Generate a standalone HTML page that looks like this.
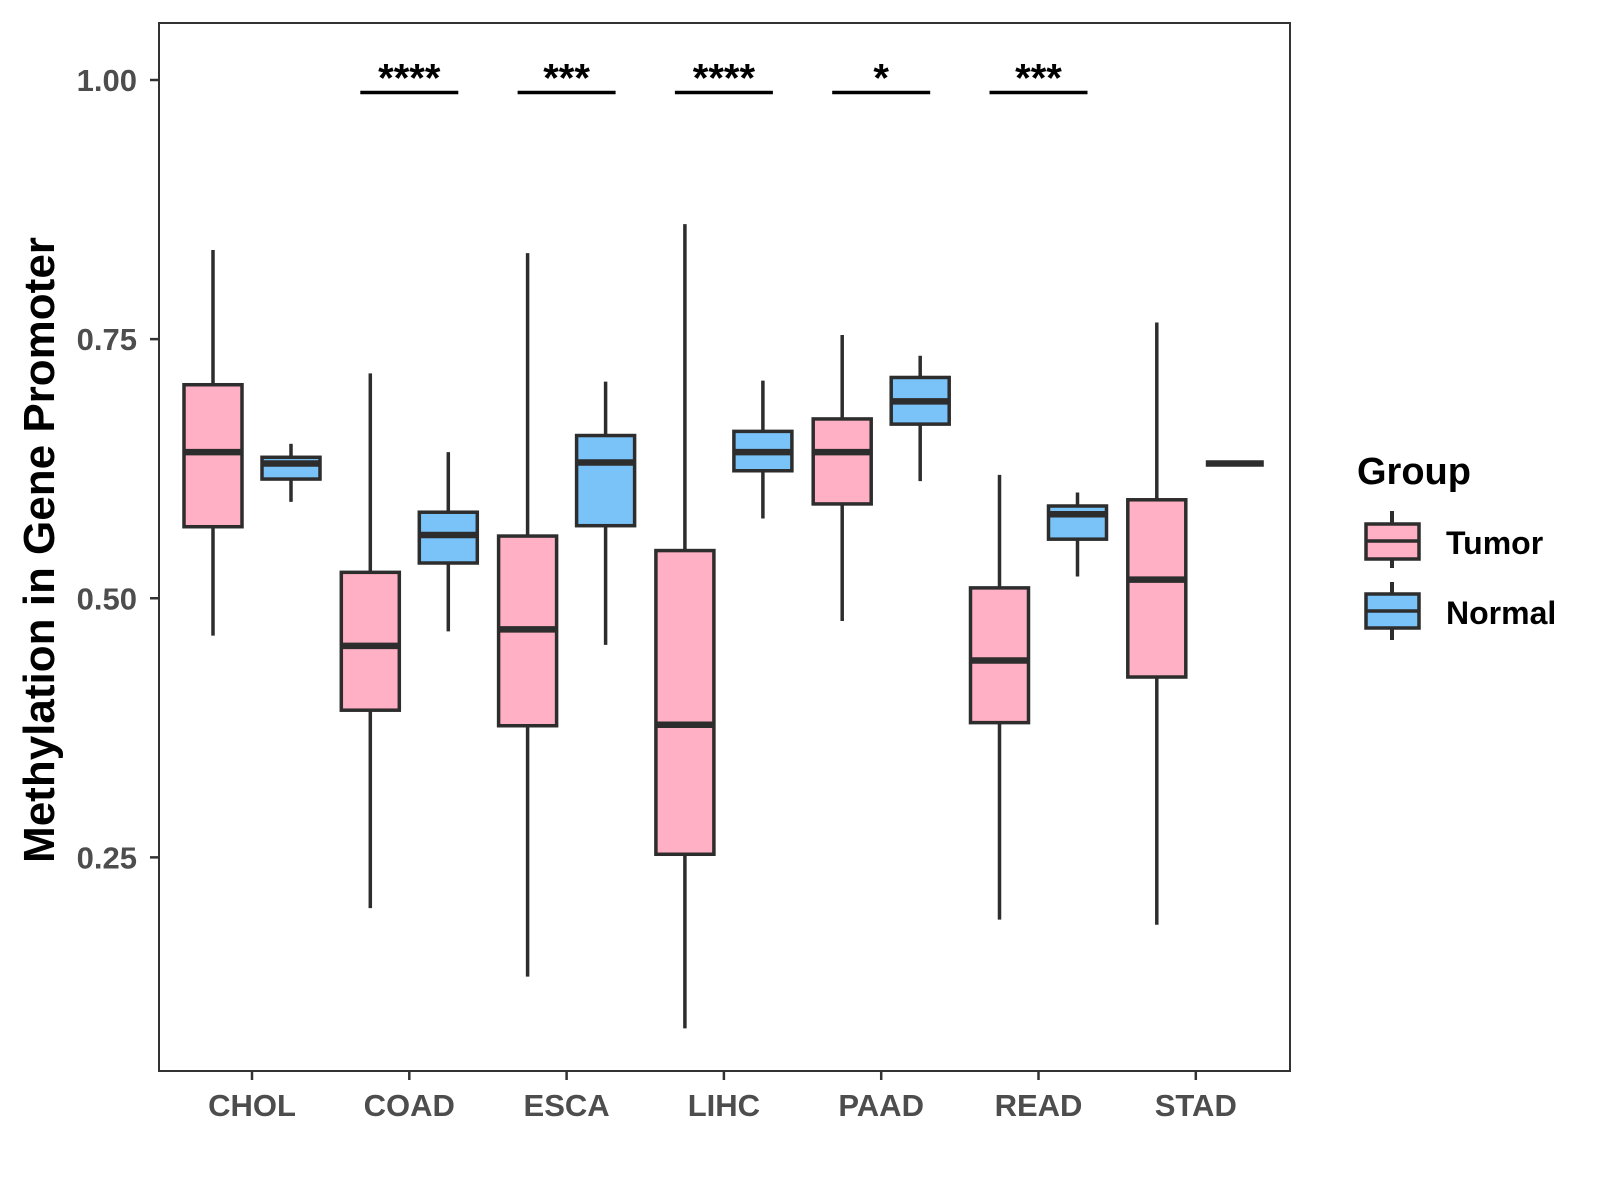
<!DOCTYPE html>
<html><head><meta charset="utf-8"><style>
html,body{margin:0;padding:0;background:#fff;}
svg{display:block;}
</style></head><body>
<svg id="chart" width="1600" height="1200" viewBox="0 0 1600 1200" xmlns="http://www.w3.org/2000/svg">
<rect x="0" y="0" width="1600" height="1200" fill="#fff"/>
<g id="plot"></g>
<rect x="159" y="23" width="1131" height="1048" fill="none" stroke="#333" stroke-width="2"/>
<text x="0" y="0" transform="translate(54,550) rotate(-90)" text-anchor="middle" font-family="Liberation Sans, sans-serif" font-weight="bold" font-size="44" fill="#000">Methylation in Gene Promoter</text>
<g>
<text x="1357" y="484" font-family="Liberation Sans, sans-serif" font-weight="bold" font-size="38" fill="#000">Group</text>
<g>
<line x1="1392" y1="511" x2="1392" y2="568" stroke="#2d2d2d" stroke-width="4"/>
<rect x="1366" y="524" width="53" height="35" fill="#FFB0C4" stroke="#2d2d2d" stroke-width="3.5"/>
<line x1="1366" y1="541" x2="1419" y2="541" stroke="#2d2d2d" stroke-width="3.5"/>
<text x="1446" y="554" font-family="Liberation Sans, sans-serif" font-weight="bold" font-size="32" fill="#000">Tumor</text>
</g>
<g>
<line x1="1392" y1="582" x2="1392" y2="640" stroke="#2d2d2d" stroke-width="4"/>
<rect x="1366" y="594" width="53" height="34" fill="#79C3F8" stroke="#2d2d2d" stroke-width="3.5"/>
<line x1="1366" y1="611" x2="1419" y2="611" stroke="#2d2d2d" stroke-width="3.5"/>
<text x="1446" y="624" font-family="Liberation Sans, sans-serif" font-weight="bold" font-size="32" fill="#000">Normal</text>
</g>
</g>
</svg>
<script>
const categories = ["CHOL","COAD","ESCA","LIHC","PAAD","READ","STAD"];
// [whiskerLow, q1, median, q3, whiskerHigh]
const tumorStats = [
  [0.464,0.569,0.641,0.706,0.836],
  [0.201,0.392,0.454,0.525,0.717],
  [0.135,0.377,0.470,0.560,0.833],
  [0.085,0.253,0.378,0.546,0.861],
  [0.478,0.591,0.641,0.673,0.754],
  [0.190,0.380,0.440,0.510,0.619],
  [0.185,0.424,0.518,0.595,0.766]
];
const normalStats = [
  [0.593,0.615,0.630,0.636,0.649],
  [0.468,0.534,0.561,0.583,0.641],
  [0.455,0.570,0.631,0.657,0.709],
  [0.577,0.623,0.641,0.661,0.710],
  [0.613,0.668,0.690,0.713,0.734],
  [0.521,0.557,0.581,0.589,0.602],
  [0.630,0.630,0.630,0.630,0.630]
];
const sigLabels = ["","****","***","****","*","***",""];
const yTicks = [0.25,0.50,0.75,1.00];
const yTickLabels = ["0.25","0.50","0.75","1.00"];

const NS = "http://www.w3.org/2000/svg";
const g = document.getElementById("plot");
function y(v){ return 80 + (1 - v) * 1036.5; }
function x(i){ return 252 + i * 157.3; }
function mk(tag, attrs, parent){
  const e = document.createElementNS(NS, tag);
  for (const k in attrs) e.setAttribute(k, attrs[k]);
  (parent || g).appendChild(e);
  return e;
}
yTicks.forEach((t, i) => {
  const tk = mk("line", {x1:150, x2:159, y1:y(t), y2:y(t), stroke:"#333", "stroke-width":2.5});
  
  
  const tl = mk("text", {x:137, y:y(t)+11, "text-anchor":"end", "font-family":"Liberation Sans, sans-serif", "font-weight":"bold", "font-size":31, fill:"#4d4d4d"});
  tl.textContent = yTickLabels[i];
  
  
});
categories.forEach((c, i) => {
  const tk = mk("line", {x1:x(i), x2:x(i), y1:1071, y2:1080, stroke:"#333", "stroke-width":2.5});
  
  
  const tl = mk("text", {x:x(i), y:1116, "text-anchor":"middle", "font-family":"Liberation Sans, sans-serif", "font-weight":"bold", "font-size":31, fill:"#4d4d4d"});
  tl.textContent = c;
  
  
});
function box(cx, s, fill){
  const grp = mk("g", {});
  const half = 29;
  mk("line", {x1:cx, x2:cx, y1:y(s[0]), y2:y(s[4]), stroke:"#2d2d2d", "stroke-width":3.5}, grp);
  if (s[3] > s[1]) {
    mk("rect", {x:cx-half, y:y(s[3]), width:half*2, height:y(s[1])-y(s[3]), fill:fill, stroke:"#2d2d2d", "stroke-width":3.5}, grp);
  }
  mk("line", {x1:cx-half, x2:cx+half, y1:y(s[2]), y2:y(s[2]), stroke:"#2d2d2d", "stroke-width":6.5}, grp);
  return grp;
}
categories.forEach((c, i) => {
  const bt = box(x(i)-39, tumorStats[i], "#FFB0C4");
  
  
  const bn = box(x(i)+39, normalStats[i], "#79C3F8");
  
  
  if (sigLabels[i]) {
    const br = mk("line", {x1:x(i)-49, x2:x(i)+49, y1:y(0.988), y2:y(0.988), stroke:"#000", "stroke-width":3.5});
    
    
    const st = mk("text", {x:x(i), y:y(0.988)-1, "text-anchor":"middle", "font-family":"Liberation Sans, sans-serif", "font-weight":"bold", "font-size":40, fill:"#000"});
    st.textContent = sigLabels[i];
    
    
  }
});
</script>
</body></html>
